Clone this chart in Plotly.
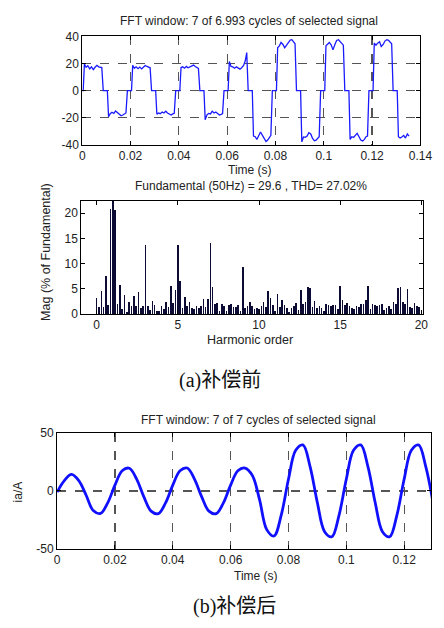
import plotly.graph_objects as go

# ---------------- data ----------------
# Panel (a) top: time-domain current before compensation.
# Each half cycle k spans 0.01*k .. 0.01*(k+1); samples taken at these offsets.
HALF_OFFSETS = [0.0004, 0.0009, 0.0016, 0.0023, 0.0031, 0.0038, 0.0046,
                0.0053, 0.0061, 0.0068, 0.0075, 0.0081, 0.0087]
HALF_VALUES = [
    [0, 19.5, 17.2, 18.3, 16.0, 17.5, 15.5, 17.2, 18.6, 17.5, 17.2, 17.0, 0],
    [0, -19.2, -17.0, -16.0, -16.8, -15.0, -16.5, -17.5, -18.6, -18.0, -17.2, -16.5, 0],
    [0, 18.6, 16.5, 17.5, 16.2, 17.3, 16.0, 17.2, 18.5, 17.8, 17.0, 16.8, 0],
    [0, -17.5, -16.5, -17.0, -15.8, -16.5, -15.2, -16.5, -17.5, -18.0, -17.2, -16.8, 0],
    [0, 17.0, 17.5, 16.5, 17.8, 16.8, 17.5, 18.0, 18.8, 17.8, 16.8, 16.3, 0],
    [0, -21.5, -18.0, -16.8, -17.2, -15.2, -16.5, -15.8, -17.2, -18.0, -17.5, -17.0, 0],
    [0, 21.5, 17.8, 17.5, 16.5, 17.5, 16.8, 15.8, 17.0, 18.5, 22.0, 28.0, 0],
    [0, -33.5, -34.0, -36.0, -33.5, -30.5, -33.0, -35.5, -37.5, -36.5, -35.0, -33.0, 0],
    [0, 31.5, 33.0, 35.5, 34.0, 31.5, 33.5, 35.5, 37.2, 37.5, 36.0, 34.5, 0],
    [0, -37.8, -34.2, -34.5, -33.5, -31.0, -32.0, -35.0, -37.0, -36.5, -35.0, -34.0, 0],
    [0, 33.0, 34.5, 35.5, 33.5, 30.0, 34.0, 37.0, 37.5, 36.0, 34.5, 33.5, 0],
    [0, -36.0, -34.0, -34.5, -32.5, -31.5, -34.0, -36.5, -37.2, -36.0, -34.0, -33.5, 0],
    [0, 35.0, 33.5, 35.0, 36.0, 32.5, 34.0, 36.5, 37.5, 37.0, 35.5, 34.5, 0],
    [0, -34.0, -35.0, -34.2, -33.0, -35.0, -32.0, -33.5],
]

# Panel (a) bottom: harmonic spectrum, bins every 1/7 harmonic order (0 .. 20)
BINS_PER_ORDER = 7
HARMONIC_MAG = [
    3.2, 1.4, 4.5, 1.4, 7.5, 1.7, 20.9,
    100, 20.6, 1.9, 5.8, 1.0, 3.8, 0.4,
    2.3, 1.6, 3.6, 1.6, 4.3, 1.2, 1.5,
    13.7, 1.6, 0.7, 2.6, 1.8, 0.6, 0.6,
    1.5, 1.0, 2.3, 1.3, 5.5, 2.1, 4.8,
    13.7, 6.6, 1.1, 3.4, 1.6, 2.4, 1.2,
    0.9, 1.5, 1.2, 1.6, 3.0, 1.3, 2.9,
    14.1, 5.3, 1.9, 2.2, 0.5, 1.9, 1.6,
    0.5, 1.8, 2.0, 1.4, 1.3, 1.7, 0.5,
    9.3, 1.1, 1.6, 2.3, 1.6, 0.9, 1.2,
    0.9, 1.5, 2.3, 1.4, 4.6, 3.2, 1.8,
    0.6, 4.0, 1.3, 2.8, 1.8, 1.2, 0.4,
    1.2, 1.5, 2.1, 0.8, 4.8, 2.0, 2.4,
    5.4, 5.2, 1.4, 2.5, 1.2, 1.5, 1.2,
    0.5, 1.9, 1.8, 1.5, 1.7, 1.8, 1.0,
    5.6, 2.8, 1.8, 2.1, 1.5, 1.2, 0.9,
    1.6, 1.3, 1.9, 2.0, 2.7, 5.6, 1.0,
    1.9, 1.7, 1.5, 1.8, 1.9, 0.8, 1.2,
    1.5, 1.0, 2.4, 2.0, 5.2, 5.4, 2.3,
    2.0, 4.9, 1.3, 1.1, 2.1, 1.5, 1.3,
    0.5,
]

# Panel (b): current after compensation, sampled every 2.5 ms
T_AFTER = [0.0, 0.0025, 0.005, 0.0075, 0.01, 0.0125, 0.015, 0.0175,
           0.02, 0.0225, 0.025, 0.0275, 0.03, 0.0325, 0.035, 0.0375,
           0.04, 0.0425, 0.045, 0.0475, 0.05, 0.0525, 0.055, 0.0575,
           0.06, 0.0625, 0.065, 0.0675, 0.07, 0.0725, 0.075, 0.0775,
           0.08, 0.0825, 0.085, 0.0875, 0.09, 0.0925, 0.095, 0.0975,
           0.1, 0.1025, 0.105, 0.1075, 0.11, 0.1125, 0.115, 0.1175,
           0.12, 0.1225, 0.125, 0.1275, 0.13]
I_AFTER = [-1.0, 9.0, 14.3, 9.0, -3.5, -17.0, -19.5, -10.3,
           5.1, 17.5, 19.7, 10.3, -5.1, -17.5, -19.7, -10.3,
           5.1, 17.5, 19.9, 10.3, -5.1, -17.5, -19.7, -10.3,
           5.1, 17.5, 19.9, 13.5, -7.5, -33.5, -39.0, -20.9,
           10.2, 35.3, 39.9, 20.9, -10.2, -35.3, -39.7, -20.9,
           10.2, 35.3, 39.9, 20.9, -10.2, -35.3, -39.7, -20.9,
           10.2, 35.3, 39.9, 20.9, -10.2]

# tick labels
T1_TICKS = [0, 0.02, 0.04, 0.06, 0.08, 0.1, 0.12, 0.14]
T1_LABELS = ["0", "0.02", "0.04", "0.06", "0.08", "0.1", "0.12", "0.14"]
Y1_TICKS = [-40, -20, 0, 20, 40]
Y1_LABELS = ["-40", "-20", "0", "20", "40"]
H_TICKS = [0, 5, 10, 15, 20]
H_LABELS = ["0", "5", "10", "15", "20"]
M_TICKS = [0, 5, 10, 15, 20]
M_LABELS = ["0", "5", "10", "15", "20"]
T3_TICKS = [0, 0.02, 0.04, 0.06, 0.08, 0.1, 0.12]
T3_LABELS = ["0", "0.02", "0.04", "0.06", "0.08", "0.1", "0.12"]
Y3_TICKS = [-50, 0, 50]
Y3_LABELS = ["-50", "0", "50"]

# ---------------- build ----------------
W, H = 444, 628


def fx(p):
    return p / W


def fy(p):
    return 1 - p / H


t_before, i_before = [], []
for k, vals in enumerate(HALF_VALUES):
    for off, v in zip(HALF_OFFSETS, vals):
        t_before.append(round(0.01 * k + off, 5))
        i_before.append(v)
t_before = [0.0] + t_before
i_before = [0.0] + i_before

orders = [i / BINS_PER_ORDER for i in range(len(HARMONIC_MAG))]

fig = go.Figure()
fig.add_trace(go.Scatter(x=t_before, y=i_before, mode="lines",
                         line=dict(color="#1a1aff", width=1.3),
                         xaxis="x", yaxis="y", showlegend=False))
fig.add_trace(go.Bar(x=orders, y=HARMONIC_MAG, width=0.1,
                     marker=dict(color="#0b0b33", line=dict(width=0)),
                     xaxis="x2", yaxis="y2", showlegend=False))
fig.add_trace(go.Scatter(x=T_AFTER, y=I_AFTER, mode="lines",
                         line=dict(color="#1010ff", width=2.8, shape="spline",
                                   smoothing=1.0),
                         xaxis="x3", yaxis="y3", showlegend=False))

FONT = "Arial, Liberation Sans, sans-serif"
tickfont = dict(family=FONT, size=12, color="#222")
common = dict(showline=True, linecolor="black", linewidth=1, mirror="ticks",
              ticks="inside", ticklen=4, tickcolor="black", zeroline=False,
              tickfont=tickfont, fixedrange=True)
grid = dict(showgrid=True, gridcolor="#555", gridwidth=1.2, griddash="dash")

fig.update_layout(
    width=W, height=H, autosize=False,
    margin=dict(l=0, r=0, t=0, b=0),
    paper_bgcolor="white", plot_bgcolor="white",
    bargap=0,
    xaxis=dict(domain=[fx(82), fx(432)], anchor="y", range=[0, 0.14],
               tickvals=T1_TICKS, ticktext=T1_LABELS, **common, **grid),
    yaxis=dict(domain=[fy(141), fy(30)], anchor="x", range=[-40, 40],
               tickvals=Y1_TICKS, ticktext=Y1_LABELS, **common, **grid),
    xaxis2=dict(domain=[fx(81), fx(435)], anchor="y2", range=[-0.95, 20.12],
                tickvals=H_TICKS, ticktext=H_LABELS, showgrid=False, **common),
    yaxis2=dict(domain=[fy(314), fy(198)], anchor="x2", range=[0, 22.5],
                tickvals=M_TICKS, ticktext=M_LABELS, showgrid=False, **common),
    xaxis3=dict(domain=[fx(56), fx(443)], anchor="y3", range=[0, 0.1293],
                tickvals=T3_TICKS, ticktext=T3_LABELS, **common, **grid),
    yaxis3=dict(domain=[fy(554), fy(436)], anchor="x3", range=[-50, 50],
                tickvals=Y3_TICKS, ticktext=Y3_LABELS, **common, **grid),
)


def label(text, x, y, size=12, angle=0, family=FONT, color="#222"):
    fig.add_annotation(text=text, x=fx(x), y=fy(y), xref="paper", yref="paper",
                       showarrow=False, xanchor="center", yanchor="middle",
                       textangle=angle, font=dict(family=family, size=size,
                                                  color=color))


label("FFT window: 7 of 6.993 cycles of selected signal", 255, 14)
label("Time (s)", 256, 167)
label("Fundamental (50Hz) = 29.6 , THD= 27.02%", 257, 183)
label("Harmonic order", 256, 341, size=12.5)
label("Mag (% of Fundamental)", 45, 250, size=12.5, angle=-90)
label("FFT window: 7 of 7 cycles of selected signal", 264, 422)
label("Time (s)", 262, 582)
label("ia/A", 15, 496, angle=-90)
SERIF = "Times New Roman, Liberation Serif, Noto Sans CJK SC, serif"
label("(a)补偿前", 225, 382, size=20, family=SERIF, color="#111")
label("(b)补偿后", 240, 613, size=20, family=SERIF, color="#111")

fig.write_html("out.html",
               config={"displayModeBar": False, "staticPlot": True},
               post_script="document.body.style.margin='0';"
                           "document.body.style.overflow='hidden';")
